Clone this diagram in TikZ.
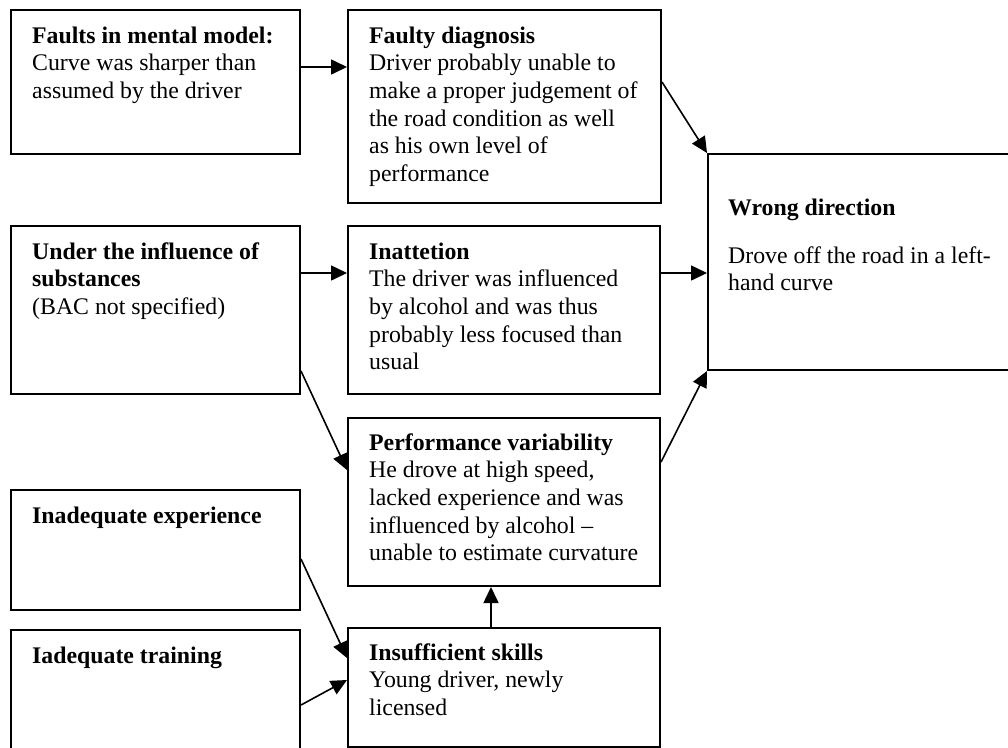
\documentclass[tikz,border=0pt]{standalone}
\usepackage{fontspec}
\setmainfont{Liberation Serif}
\usetikzlibrary{arrows.meta,calc}
\begin{document}
\begin{tikzpicture}[x=1pt,y=-1pt,
  box/.style={draw=black,line width=2pt,inner sep=0pt,anchor=north west},
  txt/.style={anchor=north west,align=left,inner sep=0pt,
    font=\fontsize{23.8}{27.6}\selectfont},
  link/.style={line width=1.6pt,-{Triangle[length=16pt,width=15pt]}}]
% canvas
\fill[white] (0,0) rectangle (1008,747);
\useasboundingbox (0,0) rectangle (1008,747);

% boxes
\node[box,minimum width=289pt,minimum height=144pt] (A) at (10,9) {};
\node[box,minimum width=313pt,minimum height=193pt] (B) at (347,9) {};
\node[box,minimum width=340pt,minimum height=216pt] (W) at (707,153) {};
\node[box,minimum width=289pt,minimum height=168pt] (C) at (10,225) {};
\node[box,minimum width=312pt,minimum height=168pt] (D) at (347,225) {};
\node[box,minimum width=312pt,minimum height=168pt] (E) at (347,417) {};
\node[box,minimum width=289pt,minimum height=120pt] (F) at (10,489) {};
\node[box,minimum width=289pt,minimum height=140pt] (G) at (10,629) {};
\node[box,minimum width=312pt,minimum height=119pt] (H) at (347,627) {};

% texts (top of each = first baseline minus strut height)
\node[txt] (tA) at (32,23.7) {\strut\textbf{Faults in mental model:}\\Curve was sharper than\\assumed by the driver};
\node[txt] (tB) at (369,23.7) {\strut\textbf{Faulty diagnosis}\\Driver probably unable to\\make a proper judgement of\\the road condition as well\\as his own level of\\performance};
\node[txt] (tW) at (728,195.7) {\strut\textbf{Wrong direction}\\[20.4pt]Drove off the road in a left-\\hand curve};
\node[txt] (tC) at (32,239.7) {\strut\textbf{Under the influence of}\\\textbf{substances}\\(BAC not specified)};
\node[txt] (tD) at (369,239.7) {\strut\textbf{Inattetion}\\The driver was influenced\\by alcohol and was thus\\probably less focused than\\usual};
\node[txt] (tE) at (369,430.7) {\strut\textbf{Performance variability}\\He drove at high speed,\\lacked experience and was\\influenced by alcohol \textendash\\unable to estimate curvature};
\node[txt] (tF) at (32,503.7) {\strut\textbf{Inadequate experience}};
\node[txt] (tG) at (32,643.7) {\strut\textbf{Iadequate training}};
\node[txt] (tH) at (369,640.7) {\strut\textbf{Insufficient skills}\\Young driver, newly\\licensed};

% connectors
\draw[link] ($(A.north east)+(0,58)$) -- ($(B.north west)+(0,58)$);
\draw[link] ($(B.north east)+(0,73)$) -- (W.north west);
\draw[link] ($(C.north east)+(0,48)$) -- ($(D.north west)+(0,48)$);
\draw[link] ($(D.north east)+(0,48)$) -- ($(W.north west)+(0,120)$);
\draw[link] ($(C.north east)+(0,146)$) -- ($(E.north west)+(0,53)$);
\draw[link] ($(E.north east)+(0,45)$) -- (W.south west);
\draw[link] ($(F.north east)+(0,70)$) -- ($(H.north west)+(0,31)$);
\draw[link] ($(G.north east)+(0,76)$) -- ($(H.north west)+(0,53)$);
\draw[link] ($(H.north west)+(144,0)$) -- ($(E.south west)+(144,0)$);
\end{tikzpicture}
\end{document}
